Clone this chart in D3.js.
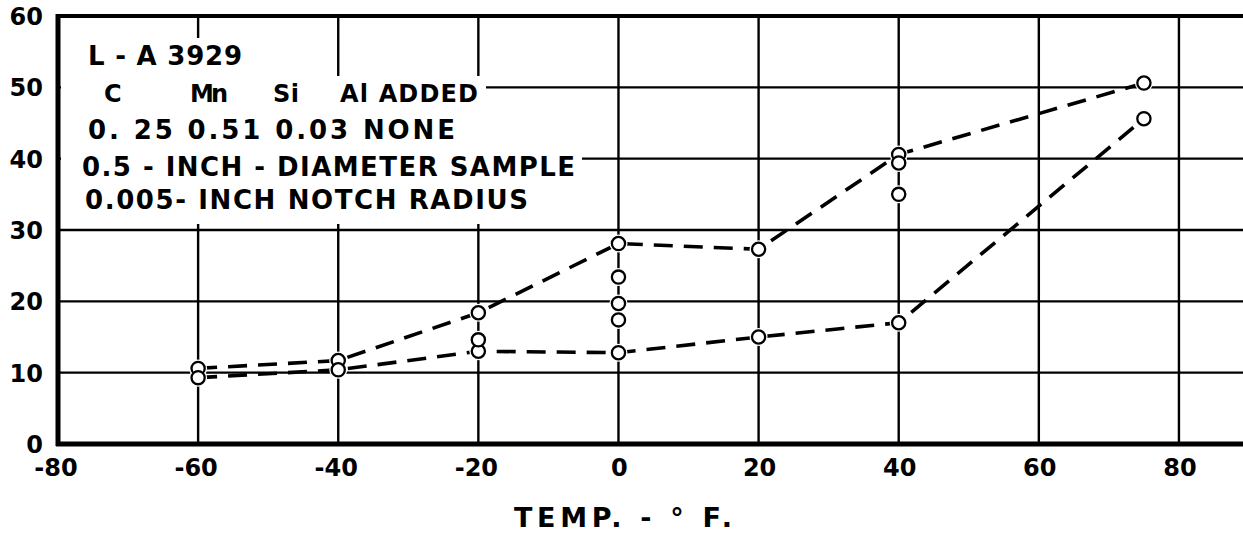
<!DOCTYPE html>
<html>
<head>
<meta charset="utf-8">
<script src="https://cdn.jsdelivr.net/npm/d3@7"></script>
<style>
  html, body { margin: 0; padding: 0; background: #fff; }
  svg { display: block; }
  text { font-family: "DejaVu Sans", sans-serif; font-weight: bold; fill: #000; }
</style>
</head>
<body>
<svg id="chart" width="1243" height="534"></svg>
<script>
// Axis ticks
const xTicks = [-80, -60, -40, -20, 0, 20, 40, 60, 80];
const yTicks = [0, 10, 20, 30, 40, 50, 60];

// Upper and lower bounds of the scatter band (temperature °F, energy)
const upperTemps  = [-60, -40, -20, 0, 20, 40, 75];
const upperEnergy = [10.6, 11.7, 18.4, 28.1, 27.3, 40.6, 50.6];
const lowerTemps  = [-60, -40, -20, 0, 20, 40, 75];
const lowerEnergy = [9.3, 10.4, 13.0, 12.8, 15.0, 17.0, 45.6];

// Specimens lying between the two bounds
const innerTemps  = [-20, 0, 0, 0, 40, 40];
const innerEnergy = [14.6, 23.4, 19.7, 17.4, 39.4, 35.0];

// Heat identification block
const heatTitle = "L - A 3929";
const elementNames = ["C", "Mn", "Si", "Al ADDED"];
const compositionLine = "0. 25  0.51  0.03 NONE";
const sampleLines = ["0.5 - INCH - DIAMETER SAMPLE", "0.005- INCH NOTCH RADIUS"];
const xTitle = "TEMP. - ° F.";

const W = 1243, H = 534;
const svg = d3.select("#chart");

const x = d3.scaleLinear().domain([-80, 90]).range([58, 1249]);
const y = d3.scaleLinear().domain([0, 60]).range([444, 16]);

// ---- grid ----
const grid = svg.append("g").attr("stroke", "#000");
grid.selectAll("line.v").data(xTicks.filter(d => d > -80)).join("line")
  .attr("class", "v")
  .attr("x1", d => x(d)).attr("x2", d => x(d))
  .attr("y1", y(60)).attr("y2", y(0))
  .attr("stroke-width", 2.4);
grid.selectAll("line.h").data(yTicks.filter(d => d > 0 && d < 60)).join("line")
  .attr("class", "h")
  .attr("x1", x(-80)).attr("x2", W)
  .attr("y1", d => y(d)).attr("y2", d => y(d))
  .attr("stroke-width", 2.4);

// ---- frame: top border, left and bottom axes ----
grid.append("line").attr("x1", x(-80) - 2).attr("x2", W).attr("y1", y(60)).attr("y2", y(60)).attr("stroke-width", 4);
grid.append("line").attr("x1", x(-80)).attr("x2", x(-80)).attr("y1", y(60) - 2).attr("y2", y(0) + 2).attr("stroke-width", 5);
grid.append("line").attr("x1", x(-80) - 2).attr("x2", W).attr("y1", y(0)).attr("y2", y(0)).attr("stroke-width", 5);

// ---- tick labels ----
svg.append("g").selectAll("text").data(yTicks).join("text")
  .attr("x", 43).attr("y", d => y(d) + 9)
  .attr("text-anchor", "end")
  .attr("font-size", 24)
  .text(d => d);

svg.append("g").selectAll("text").data(xTicks).join("text")
  .attr("x", d => x(d) + (d < 0 ? -2 : 1)).attr("y", 476)
  .attr("text-anchor", "middle")
  .attr("font-size", 24)
  .text(d => d);

svg.append("text")
  .attr("x", 514).attr("y", 527)
  .attr("font-size", 27)
  .attr("textLength", 218).attr("lengthAdjust", "spacing")
  .text(xTitle);

// ---- identification block, lettered over a cleared patch of the grid ----
const note = svg.append("g");
note.append("path")
  .attr("fill", "#fff")
  .attr("d", "M61,38 H262 V76 H486 V148 H582 V184 H540 V224 H61 Z");

note.append("text").attr("x", 88).attr("y", 65).attr("font-size", 26)
  .attr("textLength", 154).attr("lengthAdjust", "spacing").text(heatTitle);

const elementX = [104, 190, 273, 340];
const elementW = [24, 38, 26, 138];
note.selectAll("text.el").data(elementNames).join("text")
  .attr("class", "el")
  .attr("x", (d, i) => elementX[i]).attr("y", 102)
  .attr("font-size", 24)
  .attr("textLength", (d, i) => elementW[i]).attr("lengthAdjust", "spacing")
  .text(d => d);

note.append("text").attr("x", 88).attr("y", 139).attr("font-size", 26)
  .attr("textLength", 367).attr("lengthAdjust", "spacing").text(compositionLine);

const sampleY = [176, 209];
const sampleX = [82, 85];
const sampleW = [493, 443];
note.selectAll("text.smp").data(sampleLines).join("text")
  .attr("class", "smp")
  .attr("x", (d, i) => sampleX[i]).attr("y", (d, i) => sampleY[i])
  .attr("font-size", 26)
  .attr("textLength", (d, i) => sampleW[i]).attr("lengthAdjust", "spacing")
  .text(d => d);

// ---- dashed bounds ----
const line = d3.line().x(d => x(d[0])).y(d => y(d[1]));
const bands = [d3.zip(upperTemps, upperEnergy), d3.zip(lowerTemps, lowerEnergy)];
svg.append("g").selectAll("path").data(bands).join("path")
  .attr("d", line)
  .attr("fill", "none")
  .attr("stroke", "#000")
  .attr("stroke-width", 3.6)
  .attr("stroke-dasharray", "19,11");

// ---- specimens ----
const pts = [
  ...d3.zip(upperTemps, upperEnergy),
  ...d3.zip(lowerTemps, lowerEnergy),
  ...d3.zip(innerTemps, innerEnergy)
];
const marks = svg.append("g");
marks.selectAll("circle.halo").data(pts).join("circle")
  .attr("class", "halo")
  .attr("cx", d => x(d[0])).attr("cy", d => y(d[1]))
  .attr("r", 9).attr("fill", "#fff");
marks.selectAll("circle.pt").data(pts).join("circle")
  .attr("class", "pt")
  .attr("cx", d => x(d[0])).attr("cy", d => y(d[1]))
  .attr("r", 6.6)
  .attr("fill", "#fff")
  .attr("stroke", "#000")
  .attr("stroke-width", 2.3);
</script>
</body>
</html>
